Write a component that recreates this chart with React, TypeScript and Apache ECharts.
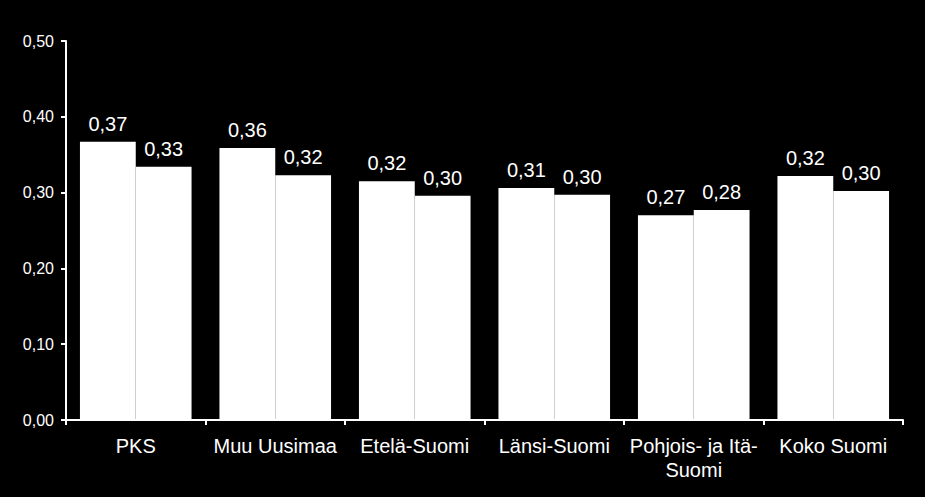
import React, { useEffect, useRef } from "react";
import * as echarts from "echarts";

const categories = ["PKS", "Muu Uusimaa", "Etelä-Suomi", "Länsi-Suomi", "Pohjois- ja Itä-\nSuomi", "Koko Suomi"];
const seriesA = [0.367, 0.359, 0.315, 0.306, 0.270, 0.322];
const seriesB = [0.334, 0.323, 0.296, 0.297, 0.277, 0.302];
const yTicks = { min: 0, max: 0.5, interval: 0.1 };

export default function App() {
  const ref = useRef<HTMLDivElement>(null);
  useEffect(() => {
    const chart = echarts.init(ref.current!, null, { renderer: "svg" });
    const font = "'Liberation Sans', Arial, sans-serif";
    const label = {
      show: true,
      position: "top" as const,
      distance: 6,
      color: "#fff",
      fontFamily: font,
      fontSize: 20,
      backgroundColor: "#000",
      padding: [2, 4],
      formatter: (p: any) => p.value.toFixed(2).replace(".", ","),
    };
    chart.setOption({
      animation: false,
      backgroundColor: "#000",
      grid: { left: 66, right: 22, top: 41, bottom: 77 },
      xAxis: {
        type: "category",
        data: categories,
        axisLine: { lineStyle: { color: "#fff", width: 2 } },
        axisTick: { show: true, lineStyle: { color: "#fff", width: 2 }, length: 5 },
        axisLabel: { color: "#fff", fontFamily: font, fontSize: 20, margin: 14, lineHeight: 24, interval: 0 },
      },
      yAxis: {
        type: "value",
        min: yTicks.min,
        max: yTicks.max,
        interval: yTicks.interval,
        splitLine: { show: false },
        axisLine: { show: true, lineStyle: { color: "#fff", width: 2 } },
        axisTick: { show: true, lineStyle: { color: "#fff", width: 2 }, length: 5 },
        axisLabel: {
          color: "#fff",
          fontFamily: font,
          fontSize: 16,
          margin: 12,
          formatter: (v: number) => v.toFixed(2).replace(".", ","),
        },
      },
      series: [
        { type: "bar", data: seriesA, barGap: "0%", barCategoryGap: "20%", itemStyle: { color: "#fff" }, label },
        { type: "bar", data: seriesB, itemStyle: { color: "#fff" }, label },
      ],
    });
    return () => chart.dispose();
  }, []);
  return <div ref={ref} style={{ width: 925, height: 497, position: "absolute", left: 0, top: 0 }} />;
}
